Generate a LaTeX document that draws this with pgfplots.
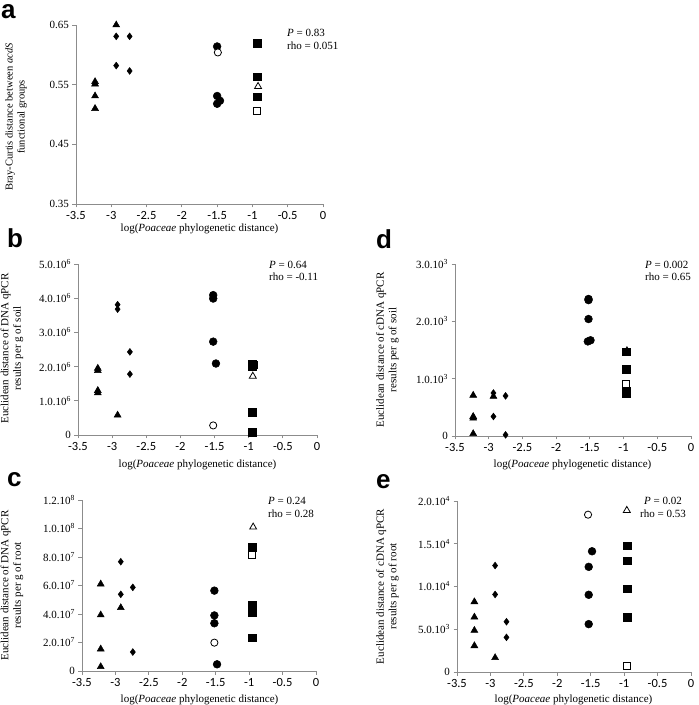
\documentclass[border=0pt]{standalone}
\usepackage{fontspec}
\setmainfont{Liberation Serif}
\newfontfamily\carlito{Carlito}
\newfontfamily\arialf{Liberation Sans}
\usepackage{pgfplots}
\pgfplotsset{compat=1.18}
\definecolor{axgray}{RGB}{140,140,140}
\pgfplotsset{
  panel/.style={scale only axis, axis lines=left,
    axis line style={-, draw=axgray, line width=0.8pt},
    xmin=-3.5, xmax=0, xtick={-3.5,-3,-2.5,-2,-1.5,-1,-0.5,0},
    xticklabels={-3.5,-3,-2.5,-2,-1.5,-1,-0.5,0},
    tick align=outside, major tick length=3.5pt,
    tick style={draw=axgray, line width=0.8pt},
    xticklabel style={font={\carlito\fontsize{12.5}{14}\selectfont}},
    yticklabel style={font={\fontsize{11}{13}\selectfont}},
    clip=false, scaled y ticks=false, anchor=south west},
  tri/.style={only marks, mark=triangle*, mark size=4pt, mark options={fill=black, draw=black, line width=0.5pt}},
  otri/.style={only marks, mark=triangle*, mark size=4pt, mark options={fill=white, draw=black, line width=0.8pt}},
  diam/.style={only marks, mark=diamond*, mark size=3.4pt, mark options={fill=black, draw=black, line width=0.5pt}},
  circ/.style={only marks, mark=*, mark size=3.9pt, mark options={fill=black, draw=black, line width=0.5pt}},
  ocirc/.style={only marks, mark=*, mark size=3.6pt, mark options={fill=white, draw=black, line width=0.8pt}},
  sq/.style={only marks, mark=square*, mark size=3.8pt, mark options={fill=black, draw=black, line width=0.5pt}},
  osq/.style={only marks, mark=square*, mark size=3.5pt, mark options={fill=white, draw=black, line width=0.8pt}},
}
\begin{document}
\begin{tikzpicture}[x=1pt,y=1pt]
\useasboundingbox (0,0) rectangle (699,705);

% ---------- panel a ----------
\begin{axis}[panel, at={(76pt,501pt)}, width=247pt, height=179pt,
  ymin=0.35, ymax=0.65, ytick={0.35,0.45,0.55,0.65}, yticklabels={0.35,0.45,0.55,0.65}]
\addplot[tri] coordinates {(-3.23,0.555) (-3.23,0.551) (-3.23,0.531) (-3.23,0.510) (-2.93,0.650)};
\addplot[diam] coordinates {(-2.93,0.631) (-2.93,0.582) (-2.74,0.631) (-2.74,0.573)};
\addplot[circ] coordinates {(-1.50,0.614) (-1.50,0.531) (-1.50,0.518) (-1.46,0.523)};
\addplot[ocirc] coordinates {(-1.49,0.604)};
\addplot[sq] coordinates {(-0.93,0.619) (-0.93,0.563) (-0.93,0.530)};
\addplot[otri] coordinates {(-0.92,0.547)};
\addplot[osq] coordinates {(-0.94,0.506)};
\end{axis}

% ---------- panel b ----------
\begin{axis}[panel, at={(78pt,270pt)}, width=239pt, height=171pt,
  ymin=0, ymax=5e6, ytick={0,1e6,2e6,3e6,4e6,5e6},
  yticklabels={0,1.0.10\textsuperscript{6},2.0.10\textsuperscript{6},3.0.10\textsuperscript{6},4.0.10\textsuperscript{6},5.0.10\textsuperscript{6}}]
\addplot[tri] coordinates {(-3.21,1.95e6) (-3.21,1.88e6) (-3.21,1.30e6) (-3.21,1.23e6) (-2.92,0.58e6)};
\addplot[diam] coordinates {(-2.92,3.81e6) (-2.92,3.68e6) (-2.74,2.43e6) (-2.74,1.78e6)};
\addplot[circ] coordinates {(-1.52,4.09e6) (-1.52,3.99e6) (-1.52,2.73e6) (-1.48,2.09e6)};
\addplot[ocirc] coordinates {(-1.52,0.28e6)};
\addplot[sq] coordinates {(-0.95,2.07e6) (-0.93,2.05e6) (-0.95,1.99e6) (-0.95,0.66e6) (-0.95,0.08e6)};
\addplot[otri] coordinates {(-0.94,1.72e6)};
\end{axis}

% ---------- panel c ----------
\begin{axis}[panel, at={(82pt,34pt)}, width=234pt, height=171pt,
  ymin=0, ymax=1.2e8, ytick={0,2e7,4e7,6e7,8e7,1e8,1.2e8},
  yticklabels={0,2.0.10\textsuperscript{7},4.0.10\textsuperscript{7},6.0.10\textsuperscript{7},8.0.10\textsuperscript{7},1.0.10\textsuperscript{8},1.2.10\textsuperscript{8}}]
\addplot[tri] coordinates {(-3.22,6.1e7) (-3.22,3.93e7) (-3.22,1.54e7) (-3.22,0.30e7) (-2.92,4.44e7)};
\addplot[diam] coordinates {(-2.92,7.67e7) (-2.92,5.38e7) (-2.74,5.87e7) (-2.74,1.33e7)};
\addplot[circ] coordinates {(-1.52,5.64e7) (-1.52,3.90e7) (-1.52,3.35e7) (-1.48,0.47e7)};
\addplot[ocirc] coordinates {(-1.52,1.99e7)};
\addplot[sq] coordinates {(-0.95,8.68e7) (-0.95,4.65e7) (-0.95,4.40e7) (-0.95,4.12e7) (-0.95,2.34e7)};
\addplot[osq] coordinates {(-0.96,8.15e7)};
\addplot[otri] coordinates {(-0.94,10.1e7)};
\end{axis}

% ---------- panel d ----------
\begin{axis}[panel, at={(455pt,269pt)}, width=236pt, height=172pt,
  ymin=0, ymax=3000, ytick={0,1000,2000,3000},
  yticklabels={0,1.0.10\textsuperscript{3},2.0.10\textsuperscript{3},3.0.10\textsuperscript{3}}]
\addplot[tri] coordinates {(-3.23,710) (-3.23,340) (-3.23,310) (-3.23,40) (-2.93,690)};
\addplot[diam] coordinates {(-2.93,750) (-2.93,340) (-2.75,700) (-2.75,20)};
\addplot[circ] coordinates {(-1.52,2390) (-1.52,2370) (-1.52,2040) (-1.53,1650) (-1.49,1670)};
\addplot[sq] coordinates {(-0.96,1470) (-0.96,1160) (-0.96,780) (-0.96,740)};
\addplot[tri] coordinates {(-0.95,1490)};
\addplot[osq] coordinates {(-0.97,900)};
\end{axis}

% ---------- panel e ----------
\begin{axis}[panel, at={(457pt,33pt)}, width=234pt, height=171pt,
  ymin=0, ymax=20000, ytick={0,5000,10000,15000,20000},
  yticklabels={0,5.0.10\textsuperscript{3},1.0.10\textsuperscript{4},1.5.10\textsuperscript{4},2.0.10\textsuperscript{4}}]
\addplot[tri] coordinates {(-3.24,8210) (-3.24,6420) (-3.24,4860) (-3.24,3070) (-2.93,1670)};
\addplot[diam] coordinates {(-2.93,12450) (-2.93,9070) (-2.76,5880) (-2.76,4050)};
\addplot[circ] coordinates {(-1.53,12300) (-1.53,9030) (-1.53,5600) (-1.48,14120)};
\addplot[ocirc] coordinates {(-1.54,18400)};
\addplot[sq] coordinates {(-0.95,14750) (-0.95,13000) (-0.95,9730) (-0.95,6420)};
\addplot[osq] coordinates {(-0.96,740)};
\addplot[otri] coordinates {(-0.96,18900)};
\end{axis}

% ---------- labels ----------
\begin{scope}[every node/.style={inner sep=0pt}]
\node[anchor=base west, font={\arialf\bfseries\fontsize{26}{28}\selectfont}] at (1,686) {a};
\node[anchor=base west, font={\arialf\bfseries\fontsize{26}{28}\selectfont}] at (7,457) {b};
\node[anchor=base west, font={\arialf\bfseries\fontsize{26}{28}\selectfont}] at (7,218) {c};
\node[anchor=base west, font={\arialf\bfseries\fontsize{26}{28}\selectfont}] at (376,456) {d};
\node[anchor=base west, font={\arialf\bfseries\fontsize{26}{28}\selectfont}] at (376,216) {e};

\node[rotate=90, align=center, font={\fontsize{10.5}{12}\selectfont}] at (16,588) {Bray-Curtis distance between \textit{acdS}\\functional groups};
\node[rotate=90, align=center, font={\fontsize{11}{12.5}\selectfont}] at (12,356.5) {Euclidean distance of DNA qPCR\\results per g of soil};
\node[rotate=90, align=center, font={\fontsize{11}{12.5}\selectfont}] at (12,119.5) {Euclidean distance of DNA qPCR\\results per g of root};
\node[rotate=90, align=center, font={\fontsize{11}{12.5}\selectfont}] at (387.5,355) {Euclidean distance of cDNA qPCR\\results per g of soil};
\node[rotate=90, align=center, font={\fontsize{11}{12.5}\selectfont}] at (387.5,118.5) {Euclidean distance of cDNA qPCR\\results per g of root};

\node[font={\fontsize{11}{13}\selectfont}] at (199.5,476) {log(\textit{Poaceae} phylogenetic distance)};
\node[font={\fontsize{11}{13}\selectfont}] at (197.5,240) {log(\textit{Poaceae} phylogenetic distance)};
\node[font={\fontsize{11}{13}\selectfont}] at (199.5,5) {log(\textit{Poaceae} phylogenetic distance)};
\node[font={\fontsize{11}{13}\selectfont}] at (572.5,240) {log(\textit{Poaceae} phylogenetic distance)};
\node[font={\fontsize{11}{13}\selectfont}] at (573.5,5) {log(\textit{Poaceae} phylogenetic distance)};

\begin{scope}[every node/.append style={anchor=west, font={\fontsize{11}{13}\selectfont}}]
\node at (287,672) {\textit{P} = 0.83};
\node at (287,659) {rho = 0.051};
\node at (269,440) {\textit{P} = 0.64};
\node at (269,428) {rho = -0.11};
\node at (268,204) {\textit{P} = 0.24};
\node at (268,191) {rho = 0.28};
\node at (645,440) {\textit{P} = 0.002};
\node at (645,428) {rho = 0.65};
\node at (644,204) {\textit{P} = 0.02};
\node at (640,191) {rho = 0.53};
\end{scope}
\end{scope}
\end{tikzpicture}
\end{document}
